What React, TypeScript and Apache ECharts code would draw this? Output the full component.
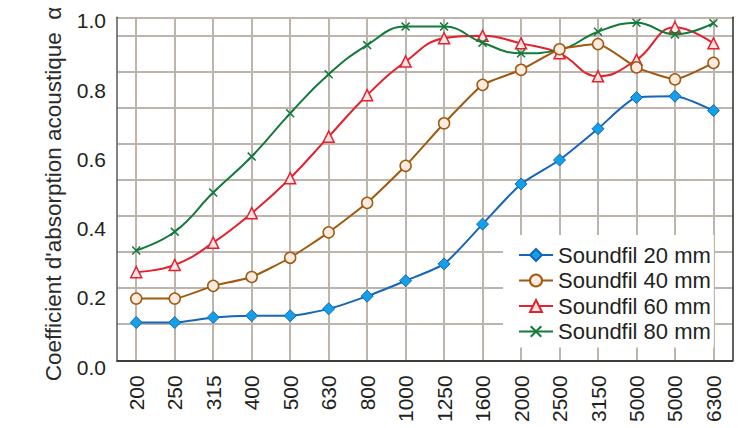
import React, { useEffect, useRef } from 'react';
import * as echarts from 'echarts';

const frequencies = ['200', '250', '315', '400', '500', '630', '800', '1000', '1250', '1600', '2000', '2500', '3150', '5000', '5000', '6300'];
const soundfil20 = [0.11, 0.11, 0.125, 0.13, 0.13, 0.15, 0.187, 0.232, 0.281, 0.397, 0.514, 0.584, 0.675, 0.766, 0.77, 0.728];
const soundfil40 = [0.18, 0.18, 0.217, 0.243, 0.299, 0.373, 0.459, 0.567, 0.691, 0.803, 0.847, 0.907, 0.922, 0.854, 0.819, 0.867];
const soundfil60 = [0.257, 0.278, 0.343, 0.429, 0.531, 0.652, 0.773, 0.871, 0.939, 0.946, 0.924, 0.895, 0.828, 0.876, 0.971, 0.924];
const soundfil80 = [0.32, 0.375, 0.489, 0.594, 0.72, 0.834, 0.919, 0.973, 0.973, 0.926, 0.895, 0.905, 0.958, 0.984, 0.95, 0.983];
const seriesNames = ['Soundfil 20 mm', 'Soundfil 40 mm', 'Soundfil 60 mm', 'Soundfil 80 mm'];
const yAxisTitle = "Coefficient d'absorption acoustique  α";

const FONT = '"Liberation Sans", Arial, Helvetica, sans-serif';
const CROSS = 'path://M0,1.2L1.2,0L5,3.8L8.8,0L10,1.2L6.2,5L10,8.8L8.8,10L5,6.2L1.2,10L0,8.8L3.8,5Z';
const GRID_COLOR = '#bdb4ab';
const FRAME_COLOR = '#2b2b2b';
const AXIS_COLOR = '#5a5a5a';

export default function App() {
  const ref = useRef<HTMLDivElement>(null);
  useEffect(() => {
    if (!ref.current) return;
    const chart = echarts.init(ref.current, null, { renderer: 'svg' });
    const option: any = {
      animation: false,
      textStyle: { fontFamily: FONT },
      grid: [
        { left: 117, top: 17.3, width: 615.7, height: 343 },
        { left: 117, top: 20.8, width: 615.7, height: 346.4 },
      ],
      legend: {
        data: seriesNames,
        orient: 'vertical',
        left: 503,
        top: 235,
        z: 6,
        padding: [9, 3, 5, 15],
        itemWidth: 34,
        itemHeight: 15,
        itemGap: 3.5,
        backgroundColor: '#ffffff',
        textStyle: { fontSize: 22, color: '#231f20', fontFamily: FONT },
      },
      xAxis: [
        {
          type: 'category',
          gridIndex: 0,
          data: frequencies,
          boundaryGap: true,
          axisLine: { show: true, lineStyle: { color: AXIS_COLOR, width: 1.5 } },
          axisTick: { show: false },
          axisLabel: { rotate: 90, fontSize: 21, color: '#231f20', margin: 15, interval: 0, fontFamily: FONT },
          splitLine: { show: true, alignWithLabel: true, lineStyle: { color: GRID_COLOR, width: 2 } },
        },
        {
          type: 'category',
          gridIndex: 0,
          data: frequencies,
          position: 'top',
          boundaryGap: true,
          axisLine: { show: true, lineStyle: { color: FRAME_COLOR, width: 1.5 } },
          axisTick: { show: false },
          axisLabel: { show: false },
          splitLine: { show: false },
        },
        { type: 'value', gridIndex: 1, show: false },
      ],
      yAxis: [
        {
          type: 'value',
          gridIndex: 0,
          min: 0,
          max: 1,
          axisLine: { show: true, lineStyle: { color: AXIS_COLOR, width: 1.5 } },
          axisLabel: { show: false },
          axisTick: { show: false },
          splitLine: { show: false },
        },
        {
          type: 'value',
          gridIndex: 0,
          min: 0,
          max: 0.95,
          interval: 0.1,
          axisLine: { show: true, lineStyle: { color: FRAME_COLOR, width: 1.5 } },
          axisLabel: { show: false },
          axisTick: { show: false },
          splitLine: { show: true, lineStyle: { color: GRID_COLOR, width: 2 } },
        },
        {
          type: 'value',
          gridIndex: 1,
          min: 0,
          max: 1,
          interval: 0.2,
          axisLine: { show: false },
          axisTick: { show: false },
          splitLine: { show: false },
          axisLabel: { fontSize: 21, color: '#231f20', margin: 11, fontFamily: FONT, formatter: (v: number) => v.toFixed(1) },
          name: yAxisTitle,
          nameLocation: 'middle',
          nameGap: 52,
          nameTextStyle: { fontSize: 22.5, color: FRAME_COLOR, fontFamily: FONT },
        },
      ],
      series: [
        {
          name: seriesNames[0],
          type: 'line',
          data: soundfil20,
          smooth: 0.2,
          symbol: 'diamond',
          symbolSize: 12,
          showAllSymbol: true,
          z: 2,
          lineStyle: { color: '#1565b8', width: 2 },
          itemStyle: { color: '#14a0e6', borderColor: '#1565b8', borderWidth: 1 },
        },
        {
          name: seriesNames[1],
          type: 'line',
          data: soundfil40,
          smooth: 0.15,
          symbol: 'circle',
          symbolSize: 11,
          showAllSymbol: true,
          z: 5,
          lineStyle: { color: '#a0590f', width: 2 },
          itemStyle: { color: '#fdebe0', borderColor: '#a0590f', borderWidth: 1.5 },
        },
        {
          name: seriesNames[2],
          type: 'line',
          data: soundfil60,
          smooth: 0.45,
          symbol: 'triangle',
          symbolSize: 11,
          showAllSymbol: true,
          z: 3,
          lineStyle: { color: '#e3222d', width: 2 },
          itemStyle: { color: '#fde3e3', borderColor: '#e3222d', borderWidth: 1.5 },
        },
        {
          name: seriesNames[3],
          type: 'line',
          data: soundfil80,
          smooth: 0.45,
          symbol: CROSS,
          symbolSize: 9,
          showAllSymbol: true,
          z: 4,
          lineStyle: { color: '#127a3b', width: 2 },
          itemStyle: { color: '#127a3b' },
        },
      ],
    };
    chart.setOption(option);
    return () => chart.dispose();
  }, []);
  return <div ref={ref} style={{ position: 'fixed', left: 0, top: 0, width: 752, height: 428, background: '#fff' }} />;
}
